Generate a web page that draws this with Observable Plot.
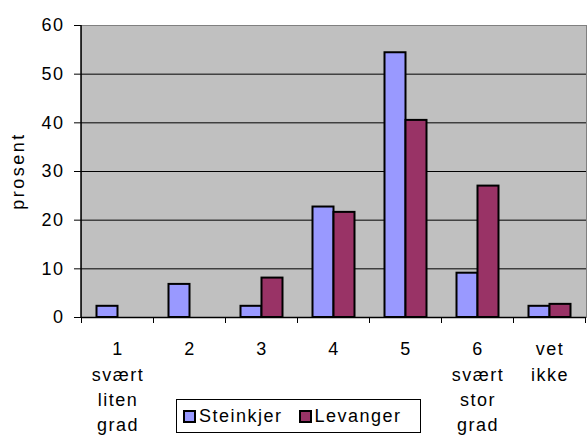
<!DOCTYPE html>
<html>
<head>
<meta charset="utf-8">
<script src="https://cdn.jsdelivr.net/npm/d3@7"></script>
<script src="https://cdn.jsdelivr.net/npm/@observablehq/plot@0.6"></script>
<style>
  html, body { margin: 0; padding: 0; background: #fff; }
  #wrap { position: relative; width: 587px; height: 439px; font-family: "Liberation Sans", Arial, sans-serif; }
  #legend { position: absolute; left: 176px; top: 399px; width: 245px; height: 34px; border: 1px solid #000; background: #fff;
            display: flex; align-items: center; font-size: 18px; letter-spacing: 1.5px; box-sizing: border-box; }
  .item { display: flex; align-items: center; margin-left: 6px; }
  .item + .item { margin-left: 16px; }
  .sw { width: 9px; height: 9px; border: 2px solid #000; margin-right: 3px; }
</style>
</head>
<body>
<div id="wrap"></div>
<script>
const categories = ["1", "2", "3", "4", "5", "6", "vet ikke"];
const tickLabels = ["1\nsvært\nliten\ngrad", "2", "3", "4", "5", "6\nsvært\nstor\ngrad", "vet\nikke"];
const series = ["Steinkjer", "Levanger"];
const colors = ["#9999FF", "#993366"];
const steinkjer = [2.3, 6.8, 2.3, 22.7, 54.4, 9.1, 2.3];
const levanger = [0, 0, 8.1, 21.6, 40.5, 27.0, 2.7];
const yTicks = [0, 10, 20, 30, 40, 50, 60];

const rows = [];
categories.forEach((c, i) => {
  rows.push({cat: c, series: "Steinkjer", value: steinkjer[i]});
  rows.push({cat: c, series: "Levanger", value: levanger[i]});
});
const nonzero = rows.filter(d => d.value > 0);
const labelOf = new Map(categories.map((c, i) => [c, tickLabels[i]]));

const W = 587, H = 439;
const mL = 81, mR = 1, mT = 25, mB = 122;
const pInner = 0.709, pOuter = pInner / 2;
const stepPx = (W - mL - mR) / categories.length;
const half = stepPx * (1 - pInner) / 2;

const plot = Plot.plot({
  width: W, height: H,
  marginLeft: mL, marginRight: mR, marginTop: mT, marginBottom: mB,
  style: {fontFamily: "Liberation Sans, Arial, sans-serif", fontSize: "18px", letterSpacing: "1.5px", color: "#000", background: "transparent"},
  x: {domain: categories, paddingInner: pInner, paddingOuter: pOuter, label: null},
  y: {domain: [0, 60], label: null},
  color: {domain: series, range: colors},
  marks: [
    Plot.frame({fill: "#C0C0C0", stroke: "#808080"}),
    Plot.gridY(yTicks.filter(t => t > 0 && t < 60), {stroke: "#000", strokeOpacity: 1, strokeWidth: 1}),
    Plot.barY(nonzero.filter(d => d.series === "Steinkjer"), {x: "cat", y: "value", fill: d => d.series, stroke: "#000", strokeWidth: 2, dx: -half}),
    Plot.barY(nonzero.filter(d => d.series === "Levanger"), {x: "cat", y: "value", fill: d => d.series, stroke: "#000", strokeWidth: 2, dx: half}),
    Plot.ruleY([0], {stroke: "#000", strokeWidth: 1.5}),
    Plot.axisY({ticks: yTicks, tickSize: 7, tickPadding: 10, fontSize: 18, label: null}),
    Plot.axisX({tickSize: 0, tickPadding: 20, fontSize: 18, lineHeight: 1.4, tickFormat: d => labelOf.get(d), label: null})
  ]
});

const xs = plot.scale("x"), ys = plot.scale("y");
const svg = d3.select(plot);
const y0 = ys.apply(0), y60 = ys.apply(60);
const left = xs.range[0];
const g = svg.append("g").attr("stroke", "#000").attr("stroke-width", 1.5);
g.append("line").attr("x1", left).attr("x2", left).attr("y1", y60).attr("y2", y0 + 0.5);
const bounds = categories.map(c => xs.apply(c) + xs.bandwidth / 2 - xs.step / 2);
bounds.push(bounds[bounds.length - 1] + xs.step);
bounds.forEach(b => g.append("line").attr("x1", b).attr("x2", b).attr("y1", y0).attr("y2", y0 + 6).attr("stroke-width", 1));

const wrap = document.getElementById("wrap");
wrap.appendChild(plot);
const legend = document.createElement("div");
legend.id = "legend";
series.forEach((s, i) => {
  const it = document.createElement("div");
  it.className = "item";
  const sw = document.createElement("div");
  sw.className = "sw";
  sw.style.background = colors[i];
  it.appendChild(sw);
  const t = document.createElement("span");
  t.textContent = s;
  it.appendChild(t);
  legend.appendChild(it);
});
wrap.appendChild(legend);

svg.append("text")
  .attr("transform", `translate(18,${(y0 + y60) / 2}) rotate(-90)`)
  .attr("text-anchor", "middle").attr("dy", "0.35em")
  .attr("font-size", 18).attr("letter-spacing", "2.5px")
  .attr("font-family", "Liberation Sans, Arial, sans-serif")
  .text("prosent");
</script>
</body>
</html>
